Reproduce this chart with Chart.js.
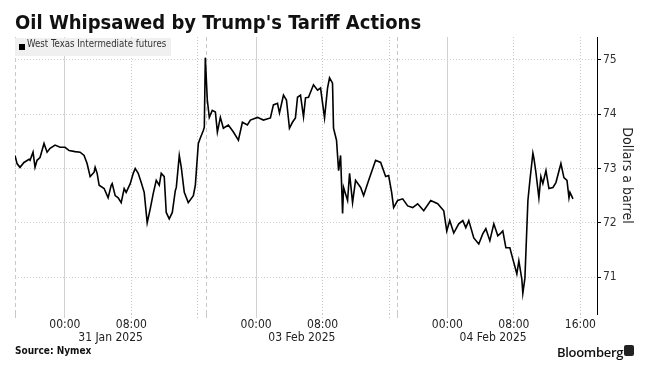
<!DOCTYPE html>
<html>
<head>
<meta charset="utf-8">
<script src="https://cdn.jsdelivr.net/npm/chart.js@4"></script>
<style>
  body { margin: 0; background: #fff; }
  #wrap { position: relative; width: 652px; height: 374px; overflow: hidden; }
  #oilChart { position: absolute; left: 0; top: 0; }
  .title { position: absolute; left: 15px; top: 10px; line-height: 24px; font: bold 20px 'DejaVu Sans Condensed', 'DejaVu Sans', sans-serif; color: #111; white-space: nowrap; }
  .legend { position: absolute; left: 15px; top: 38px; width: 156px; height: 18px; background: #f0f0f0; }
  .legend .sw { position: absolute; left: 4px; top: 6px; width: 6px; height: 6px; background: #000; }
  .legend .txt { position: absolute; left: 12px; top: 0; line-height: 18px; font: 9.6px 'DejaVu Sans Condensed', 'DejaVu Sans', sans-serif; color: #333; white-space: nowrap; }
  .source { position: absolute; left: 15px; top: 345px; line-height: 12px; font: bold 10px 'DejaVu Sans Condensed', 'DejaVu Sans', sans-serif; color: #111; }
  .brand { position: absolute; left: 557px; top: 343px; line-height: 16px; font: 600 13px 'Open Sans', sans-serif; color: #111; letter-spacing: -0.3px; }
  .logo { position: absolute; left: 624px; top: 345px; width: 10px; height: 11px; background: #222; border-radius: 2px; }
</style>
</head>
<body>
<div id="wrap">
  <canvas id="oilChart" width="652" height="374"></canvas>
  <div class="title">Oil Whipsawed by Trump's Tariff Actions</div>
  <div class="legend"><span class="sw"></span><span class="txt">West Texas Intermediate futures</span></div>
  <div class="source">Source: Nymex</div>
  <div class="brand">Bloomberg</div>
  <div class="logo"></div>
</div>
<script>
// trading hours since session open (18:00 on 30 Jan), 23h sessions back to back
const hours = [
  0, 0.24, 0.6, 1.08, 1.69, 1.81, 2.17, 2.41, 2.65, 3.01, 3.49, 3.86, 4.22, 4.82, 5.42, 6.02, 6.51,
  7.23, 7.83, 8.31, 8.67, 9.04, 9.52, 9.64, 9.88, 10.12, 10.72, 11.2, 11.57, 11.69, 12.05, 12.41,
  12.77, 13.13, 13.37, 13.86, 14.22, 14.46, 14.82, 15.18, 15.54, 15.9, 16.27, 16.63, 16.99, 17.35,
  17.59, 17.95, 18.19, 18.55, 18.92, 19.28, 19.4, 19.76, 20, 20.36, 20.84, 21.45, 21.69, 22.05,
  22.29, 22.65, 22.77,
  22.89, 23.13, 23.37, 23.73, 24.1, 24.34, 24.7, 25.06, 25.66, 26.27, 26.87, 27.35, 27.95, 28.31,
  29.16, 29.88, 30.72, 31.08, 31.57, 31.81, 32.29, 32.65, 33.01, 33.37, 33.73, 33.98, 34.34, 34.7,
  34.94, 35.3, 35.9, 36.39, 36.75, 37.23, 37.59, 37.83, 38.19, 38.31, 38.67, 38.92, 39.16, 39.4,
  39.52, 40, 40.24, 40.6, 40.96, 41.57, 41.93, 42.53, 43.37, 43.98, 44.58, 44.94, 45.3, 45.54,
  46.02, 46.63, 47.23, 47.83, 48.43, 49.16, 50, 50.84, 51.57, 51.93, 52.29, 52.77, 53.37, 53.86,
  54.22, 54.58, 55.18, 55.78, 56.27, 56.63, 57.11, 57.59, 58.07, 58.43, 58.67, 59.04, 59.52,
  59.88, 60.36, 60.6, 60.96, 61.08, 61.33, 61.69, 61.93, 62.29, 62.41, 62.65, 63.01, 63.25,
  63.49, 63.86, 64.22, 64.7, 65.06, 65.66, 66.02, 66.39, 66.63, 66.75, 67.11
];
const prices = [
  73.24, 73.09, 73.02, 73.11, 73.17, 73.15, 73.30, 73.02, 73.15, 73.20, 73.46, 73.30, 73.37, 73.43, 73.39, 73.39, 73.33,
  73.31, 73.30, 73.24, 73.09, 72.85, 72.93, 73.02, 72.91, 72.69, 72.63, 72.46, 72.69, 72.72, 72.50, 72.46,
  72.37, 72.63, 72.56, 72.72, 72.91, 73.00, 72.91, 72.74, 72.56, 72.00, 72.26, 72.54, 72.78, 72.69,
  72.91, 72.85, 72.19, 72.07, 72.19, 72.59, 72.65, 73.24, 73.02, 72.56, 72.37, 72.50, 72.69, 73.46,
  73.56, 73.70, 73.76,
  75.04, 74.26, 73.94, 74.07, 74.04, 73.67, 73.94, 73.74, 73.80, 73.67, 73.52, 73.85, 73.80, 73.89,
  73.94, 73.89, 73.93, 74.17, 74.20, 74.02, 74.35, 74.26, 73.74, 73.85, 73.93, 74.31, 74.35, 73.95,
  74.30, 74.31, 74.54, 74.44, 74.48, 73.93, 74.48, 74.67, 74.57, 73.74, 73.52, 72.96, 73.24, 72.17,
  72.65, 72.41, 72.91, 72.37, 72.78, 72.65, 72.50, 72.78, 73.15, 73.11, 72.85, 72.87, 72.56, 72.28,
  72.41, 72.44, 72.31, 72.28, 72.35, 72.22, 72.41, 72.35, 72.22, 71.85, 72.04, 71.81, 71.98, 72.04,
  71.91, 72.04, 71.72, 71.61, 71.80, 71.89, 71.67, 71.98, 71.76, 71.81, 71.85, 71.54, 71.54,
  71.33, 71.06, 71.30, 70.96, 70.70, 70.98, 72.41, 72.78, 73.28, 73.19, 72.93, 72.46, 72.85,
  72.72, 72.96, 72.63, 72.65, 72.74, 73.09, 72.83, 72.78, 72.46, 72.56, 72.44
];

const sessionStarts = [0, 23, 46];          // dashed lines
const midnights = [6, 29, 52];              // solid lines
const otherTicks = [14, 22, 37, 45, 60, 68]; // dotted lines
const timeTickValues = [6, 14, 29, 37, 52, 60, 68];
const timeTickLabels = ['00:00', '08:00', '00:00', '08:00', '00:00', '08:00', '16:00'];
const dateTickValues = [11.5, 34.5, 57.5];
const dateTickLabels = ['31 Jan 2025', '03 Feb 2025', '04 Feb 2025'];
const priceTicks = [71, 72, 73, 74, 75];

const fontFam = "'DejaVu Sans Condensed', 'DejaVu Sans', sans-serif";

const gridDash = (ctx) => {
  if (!ctx.tick) return [];
  const v = ctx.tick.value;
  if (sessionStarts.includes(v)) return [4, 3];
  if (midnights.includes(v)) return [];
  return [1, 2];
};
const gridColor = (ctx) => {
  if (!ctx.tick) return '#ccc';
  return midnights.includes(ctx.tick.value) ? '#d2d2d2' : '#c8c8c8';
};

const allXTicks = [...sessionStarts, ...midnights, ...otherTicks].sort((a, b) => a - b);

const config = {
  type: 'line',
  data: {
    datasets: [{
      label: 'West Texas Intermediate futures',
      data: hours.map((h, i) => ({ x: h, y: prices[i] })),
      borderColor: '#000',
      borderWidth: 1.6,
      pointRadius: 0,
      tension: 0,
      xAxisID: 'x',
      yAxisID: 'y'
    }]
  },
  options: {
    responsive: false,
    animation: false,
    layout: { padding: { left: 15, top: 37, right: 0, bottom: 0 } },
    plugins: { legend: { display: false }, tooltip: { enabled: false } },
    scales: {
      x: {
        type: 'linear',
        position: 'bottom',
        min: 0,
        max: 70,
        weight: 0,
        afterBuildTicks: (axis) => { axis.ticks = allXTicks.map(v => ({ value: v })); },
        afterFit: (axis) => { axis.height = 16; },
        grid: {
          color: gridColor,
          lineWidth: 1,
          tickLength: 4,
          tickColor: gridColor,
          tickBorderDash: gridDash
        },
        border: { display: false, dash: gridDash },
        ticks: {
          autoSkip: false,
          maxRotation: 0,
          padding: 0,
          color: '#222',
          font: { family: fontFam, size: 12 },
          callback: (v) => {
            const i = timeTickValues.indexOf(v);
            return i >= 0 ? timeTickLabels[i] : '';
          }
        }
      },
      x2: {
        type: 'linear',
        position: 'bottom',
        min: 0,
        max: 70,
        weight: 1,
        afterBuildTicks: (axis) => { axis.ticks = dateTickValues.map(v => ({ value: v })); },
        afterFit: (axis) => { axis.height = 44; },
        grid: { display: false, drawTicks: false },
        border: { display: false },
        ticks: {
          autoSkip: false,
          maxRotation: 0,
          padding: 1,
          color: '#222',
          font: { family: fontFam, size: 12 },
          callback: (v) => {
            const i = dateTickValues.indexOf(v);
            return i >= 0 ? dateTickLabels[i] : '';
          }
        }
      },
      y: {
        type: 'linear',
        position: 'right',
        min: 70.32,
        max: 75.42,
        afterBuildTicks: (axis) => { axis.ticks = priceTicks.map(v => ({ value: v })); },
        afterFit: (axis) => { axis.width = 55; },
        grid: {
          color: '#cfcfcf',
          tickColor: '#000',
          tickLength: 4,
          tickBorderDash: []
        },
        border: { display: true, color: '#000', width: 1, dash: [1, 2] },
        ticks: {
          padding: 2,
          color: '#333',
          font: { family: fontFam, size: 12 },
          callback: (v) => String(v)
        },
        title: {
          display: true,
          text: 'Dollars a barrel',
          color: '#222',
          font: { family: fontFam, size: 14 },
          padding: { top: 17, bottom: 0 }
        }
      }
    }
  }
};

const oilChart = new Chart(document.getElementById('oilChart'), config);
</script>
</body>
</html>
